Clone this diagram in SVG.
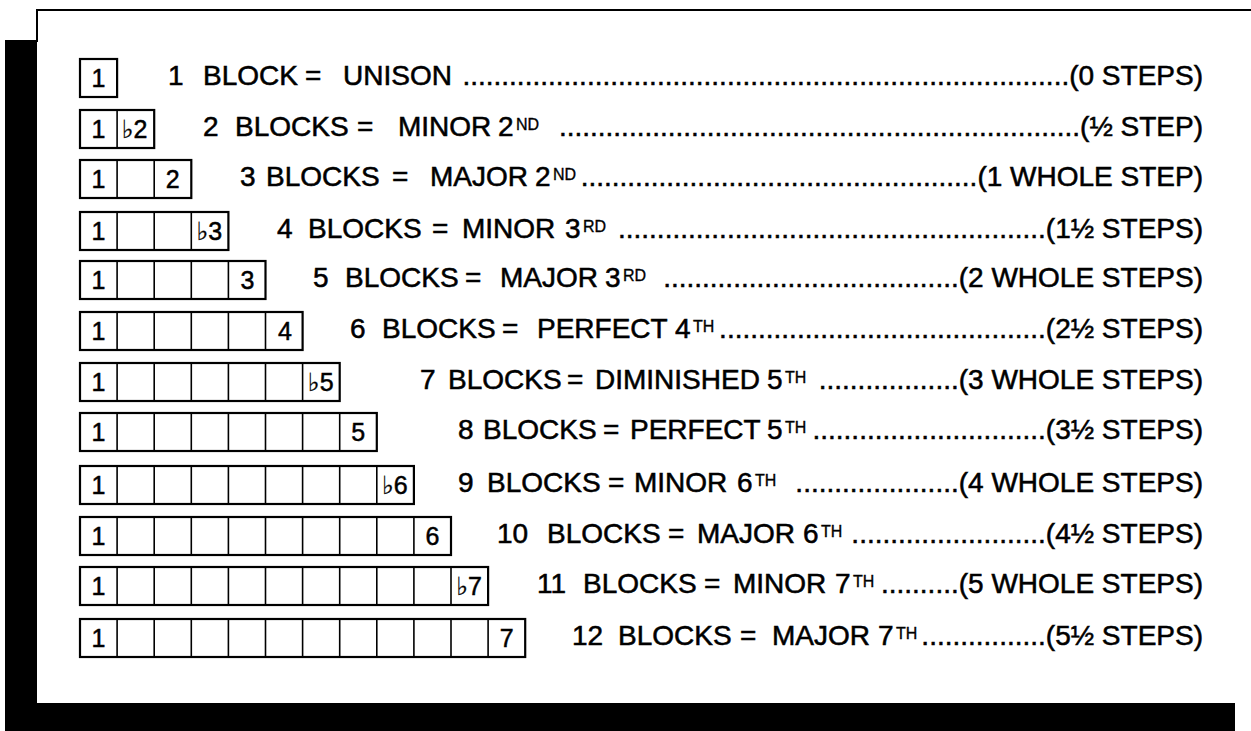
<svg xmlns="http://www.w3.org/2000/svg" width="1251" height="731" viewBox="0 0 1251 731">
<style>
.t{font-family:"Liberation Sans",Arial,Helvetica,sans-serif;font-size:28px;fill:#000;stroke:#000;stroke-width:0.55}
.s{font-size:16px;stroke-width:0.35}
.b{font-family:"Liberation Sans",Arial,sans-serif;font-size:25px;fill:#000;stroke:#000;stroke-width:0.5;text-anchor:middle}
.fl{font-family:"DejaVu Sans",sans-serif;font-size:25px;stroke-width:0.3}
.box{fill:#fff;stroke:#000;stroke-width:2.2}
.div{fill:none;stroke:#000;stroke-width:1.6}
</style>
<rect x="0" y="0" width="1251" height="731" fill="#fff"/>
<g id="frame">
<line x1="37" y1="10" x2="1251" y2="10" stroke="#000" stroke-width="2"/>
<line x1="37" y1="9" x2="37" y2="42" stroke="#000" stroke-width="2"/>
<rect x="5" y="40" width="32" height="691" fill="#000"/>
<rect x="5" y="703" width="1230" height="28" fill="#000"/>
</g>
<g id="row1">
<rect class="box" x="80" y="59" width="37.1" height="38"/>
<text class="b" x="98.5" y="87">1</text>
<text class="t" y="85"><tspan x="168">1</tspan><tspan x="203">BLOCK</tspan><tspan x="305">=</tspan><tspan x="343">UNISON</tspan></text>
<text class="t" x="1203" y="85" text-anchor="end">..............................................................................(0 STEPS)</text>
</g>
<g id="row2">
<rect class="box" x="80" y="110" width="74.2" height="38"/>
<path class="div" d="M117.1 110V148"/>
<text class="b" x="98.5" y="138">1</text>
<text class="b" x="134.6" y="138"><tspan class="fl">♭</tspan>2</text>
<text class="t" y="136"><tspan x="203">2</tspan><tspan x="235">BLOCKS</tspan><tspan x="357">=</tspan><tspan x="398">MINOR</tspan><tspan x="498">2</tspan><tspan class="s" x="516" y="130">ND</tspan></text>
<text class="t" x="1203" y="136" text-anchor="end">...................................................................(½ STEP)</text>
</g>
<g id="row3">
<rect class="box" x="80" y="160" width="111.3" height="38"/>
<path class="div" d="M117.1 160V198M154.2 160V198"/>
<text class="b" x="98.5" y="188">1</text>
<text class="b" x="172.7" y="188">2</text>
<text class="t" y="186"><tspan x="240">3</tspan><tspan x="266">BLOCKS</tspan><tspan x="392">=</tspan><tspan x="430">MAJOR</tspan><tspan x="535">2</tspan><tspan class="s" x="553" y="180">ND</tspan></text>
<text class="t" x="1203" y="186" text-anchor="end">...................................................(1 WHOLE STEP)</text>
</g>
<g id="row4">
<rect class="box" x="80" y="212" width="148.4" height="38"/>
<path class="div" d="M117.1 212V250M154.2 212V250M191.3 212V250"/>
<text class="b" x="98.5" y="240">1</text>
<text class="b" x="209.3" y="240"><tspan class="fl">♭</tspan>3</text>
<text class="t" y="238"><tspan x="277">4</tspan><tspan x="308">BLOCKS</tspan><tspan x="432">=</tspan><tspan x="462">MINOR</tspan><tspan x="565">3</tspan><tspan class="s" x="583" y="232">RD</tspan></text>
<text class="t" x="1203" y="238" text-anchor="end">.......................................................(1½ STEPS)</text>
</g>
<g id="row5">
<rect class="box" x="80" y="261" width="185.5" height="38"/>
<path class="div" d="M117.1 261V299M154.2 261V299M191.3 261V299M228.4 261V299"/>
<text class="b" x="98.5" y="289">1</text>
<text class="b" x="247.4" y="289">3</text>
<text class="t" y="287"><tspan x="313">5</tspan><tspan x="345">BLOCKS</tspan><tspan x="465">=</tspan><tspan x="500">MAJOR</tspan><tspan x="605">3</tspan><tspan class="s" x="623" y="281">RD</tspan></text>
<text class="t" x="1203" y="287" text-anchor="end">......................................(2 WHOLE STEPS)</text>
</g>
<g id="row6">
<rect class="box" x="80" y="312" width="222.6" height="38"/>
<path class="div" d="M117.1 312V350M154.2 312V350M191.3 312V350M228.4 312V350M265.5 312V350"/>
<text class="b" x="98.5" y="340">1</text>
<text class="b" x="285" y="340">4</text>
<text class="t" y="338"><tspan x="350">6</tspan><tspan x="382">BLOCKS</tspan><tspan x="502">=</tspan><tspan x="537">PERFECT</tspan><tspan x="675">4</tspan><tspan class="s" x="693" y="332">TH</tspan></text>
<text class="t" x="1203" y="338" text-anchor="end">..........................................(2½ STEPS)</text>
</g>
<g id="row7">
<rect class="box" x="80" y="363" width="259.7" height="38"/>
<path class="div" d="M117.1 363V401M154.2 363V401M191.3 363V401M228.4 363V401M265.5 363V401M302.6 363V401"/>
<text class="b" x="98.5" y="391">1</text>
<text class="b" x="320.7" y="391"><tspan class="fl">♭</tspan>5</text>
<text class="t" y="389"><tspan x="420">7</tspan><tspan x="448">BLOCKS</tspan><tspan x="567">=</tspan><tspan x="595">DIMINISHED</tspan><tspan x="767">5</tspan><tspan class="s" x="785" y="383">TH</tspan></text>
<text class="t" x="1203" y="389" text-anchor="end">..................(3 WHOLE STEPS)</text>
</g>
<g id="row8">
<rect class="box" x="80" y="413" width="296.8" height="38"/>
<path class="div" d="M117.1 413V451M154.2 413V451M191.3 413V451M228.4 413V451M265.5 413V451M302.6 413V451M339.7 413V451"/>
<text class="b" x="98.5" y="441">1</text>
<text class="b" x="358.3" y="441">5</text>
<text class="t" y="439"><tspan x="458">8</tspan><tspan x="483">BLOCKS</tspan><tspan x="603">=</tspan><tspan x="630">PERFECT</tspan><tspan x="767">5</tspan><tspan class="s" x="785" y="433">TH</tspan></text>
<text class="t" x="1203" y="439" text-anchor="end">..............................(3½ STEPS)</text>
</g>
<g id="row9">
<rect class="box" x="80" y="466" width="333.9" height="38"/>
<path class="div" d="M117.1 466V504M154.2 466V504M191.3 466V504M228.4 466V504M265.5 466V504M302.6 466V504M339.7 466V504M376.8 466V504"/>
<text class="b" x="98.5" y="494">1</text>
<text class="b" x="394.9" y="494"><tspan class="fl">♭</tspan>6</text>
<text class="t" y="492"><tspan x="458">9</tspan><tspan x="487">BLOCKS</tspan><tspan x="608">=</tspan><tspan x="634">MINOR</tspan><tspan x="737">6</tspan><tspan class="s" x="755" y="486">TH</tspan></text>
<text class="t" x="1203" y="492" text-anchor="end">.....................(4 WHOLE STEPS)</text>
</g>
<g id="row10">
<rect class="box" x="80" y="517" width="371" height="38"/>
<path class="div" d="M117.1 517V555M154.2 517V555M191.3 517V555M228.4 517V555M265.5 517V555M302.6 517V555M339.7 517V555M376.8 517V555M413.9 517V555"/>
<text class="b" x="98.5" y="545">1</text>
<text class="b" x="432.5" y="545">6</text>
<text class="t" y="543"><tspan x="497">10</tspan><tspan x="547">BLOCKS</tspan><tspan x="668">=</tspan><tspan x="697">MAJOR</tspan><tspan x="803">6</tspan><tspan class="s" x="821" y="537">TH</tspan></text>
<text class="t" x="1203" y="543" text-anchor="end">.........................(4½ STEPS)</text>
</g>
<g id="row11">
<rect class="box" x="80" y="567" width="408.1" height="38"/>
<path class="div" d="M117.1 567V605M154.2 567V605M191.3 567V605M228.4 567V605M265.5 567V605M302.6 567V605M339.7 567V605M376.8 567V605M413.9 567V605M451 567V605"/>
<text class="b" x="98.5" y="595">1</text>
<text class="b" x="469.1" y="595"><tspan class="fl">♭</tspan>7</text>
<text class="t" y="593"><tspan x="537">11</tspan><tspan x="583">BLOCKS</tspan><tspan x="704">=</tspan><tspan x="733">MINOR</tspan><tspan x="835">7</tspan><tspan class="s" x="853" y="587">TH</tspan></text>
<text class="t" x="1203" y="593" text-anchor="end">..........(5 WHOLE STEPS)</text>
</g>
<g id="row12">
<rect class="box" x="80" y="619" width="445.2" height="38"/>
<path class="div" d="M117.1 619V657M154.2 619V657M191.3 619V657M228.4 619V657M265.5 619V657M302.6 619V657M339.7 619V657M376.8 619V657M413.9 619V657M451 619V657M488.1 619V657"/>
<text class="b" x="98.5" y="647">1</text>
<text class="b" x="506.6" y="647">7</text>
<text class="t" y="645"><tspan x="572">12</tspan><tspan x="618">BLOCKS</tspan><tspan x="740">=</tspan><tspan x="772">MAJOR</tspan><tspan x="878">7</tspan><tspan class="s" x="896" y="639">TH</tspan></text>
<text class="t" x="1203" y="645" text-anchor="end">................(5½ STEPS)</text>
</g>
</svg>
